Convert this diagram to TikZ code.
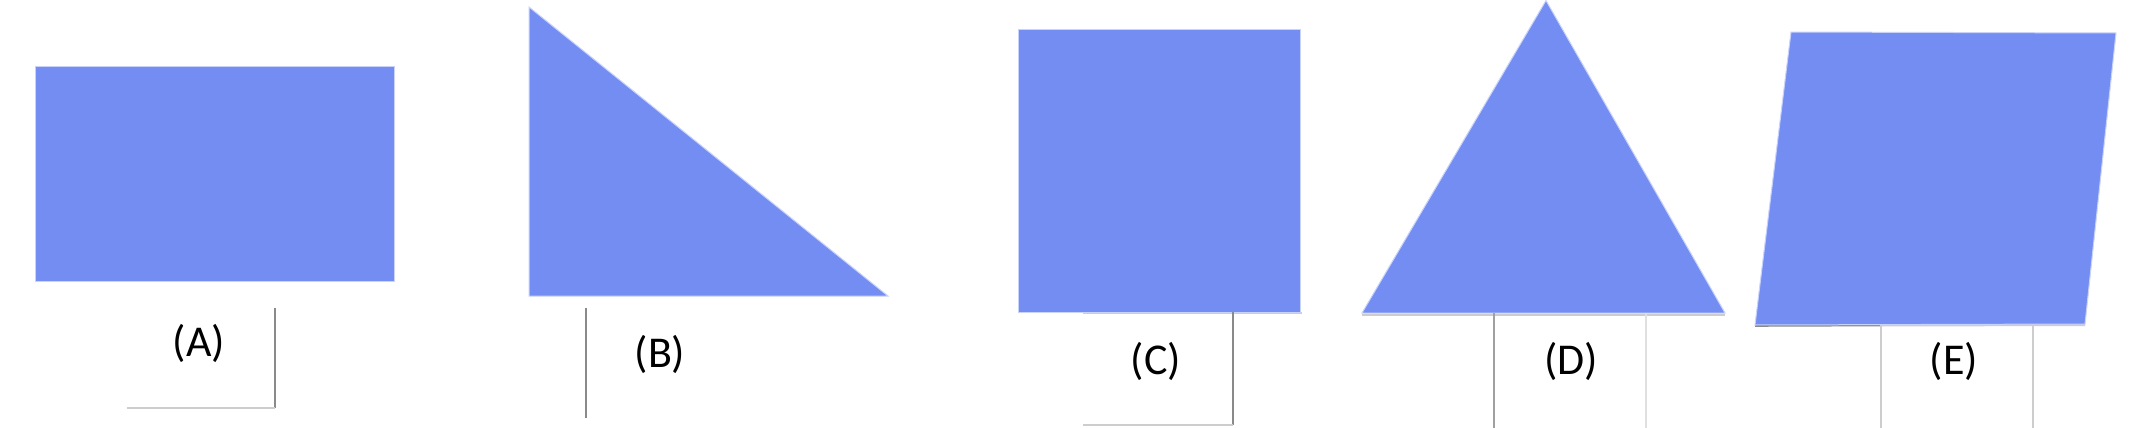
\documentclass[tikz,border=0pt]{standalone}
\usepackage{fontspec}
\setmainfont{Carlito}
\definecolor{shapeblue}{HTML}{738DF2}
\definecolor{edgewhite}{HTML}{C9D3FA}
\definecolor{lineA}{HTML}{8A8A8A}
\definecolor{lineB}{HTML}{A0A0A0}
\definecolor{lineC}{HTML}{CDCDCD}
\definecolor{lineD}{HTML}{E0E0E0}
\begin{document}
\begin{tikzpicture}[x=0.5pt,y=-0.5pt,
  shapefill/.style={fill=shapeblue, draw=edgewhite, line width=0.5pt, line join=miter},
  label/.style={inner sep=0pt, font=\fontsize{22}{26}\selectfont},
  darkrule/.style={draw=lineA, line width=0.7pt},
  midrule/.style={draw=lineB, line width=0.7pt},
  lightrule/.style={draw=lineC, line width=0.7pt},
  faintrule/.style={draw=lineD, line width=0.7pt},
  baserule/.style={draw=lineC, line width=1.3pt},
  shadow/.style={draw=lineC, line width=1pt}]
\useasboundingbox (0,0) rectangle (2148,428);
\fill[white] (0,0) rectangle (2148,428);

% (A) rectangle
\path[shapefill] (35,66) rectangle (394,281);
% (B) right triangle
\path[shapefill] (529,7) -- (529,296) -- (888,296) -- cycle;
% (C) rectangle
\draw[shadow] (1083,313) -- (1302,313);
\path[shapefill] (1018,29) rectangle (1300,312);
% (D) triangle
\draw[shadow] (1362,314.5) -- (1725,314.5);
\path[shapefill] (1546,0.5) -- (1725,313) -- (1362,313) -- cycle;
% (E) parallelogram
\draw[draw=lineA, line width=0.8pt] (1755,326) -- (1881,325.5);
\draw[shadow] (1881,325.5) -- (2085,325);
\path[shapefill] (1791,32) -- (2116,33) -- (2085,324) -- (1755,325) -- cycle;

% labels
\node[label] (la) at (199,343) {(A)};
\node[label] (lb) at (660,354) {(B)};
\node[label] (lc) at (1156,361) {(C)};
\node[label] (ld) at (1571,361) {(D)};
\node[label] (le) at (1954,361) {(E)};

% guide lines
\coordinate (a1) at (275,308);
\coordinate (a2) at (275,408);
\coordinate (a3) at (127,408);
\draw[darkrule] (a1) -- (a2);
\draw[baserule] (a2) -- (a3);

\coordinate (b1) at (586,308);
\coordinate (b2) at (586,418);
\draw[darkrule] (b1) -- (b2);

\coordinate (c1) at (1233,312);
\coordinate (c2) at (1233,425);
\coordinate (c3) at (1083,425);
\draw[darkrule] (c1) -- (c2);
\draw[baserule] (c2) -- (c3);

\coordinate (d1) at (1494,313);
\coordinate (d2) at (1494,428);
\coordinate (d3) at (1646,313);
\coordinate (d4) at (1646,428);
\draw[midrule] (d1) -- (d2);
\draw[faintrule] (d3) -- (d4);

\coordinate (e1) at (1881,325);
\coordinate (e2) at (1881,428);
\coordinate (e3) at (2033,325);
\coordinate (e4) at (2033,428);
\draw[lightrule] (e1) -- (e2);
\draw[lightrule] (e3) -- (e4);
\end{tikzpicture}
\end{document}
